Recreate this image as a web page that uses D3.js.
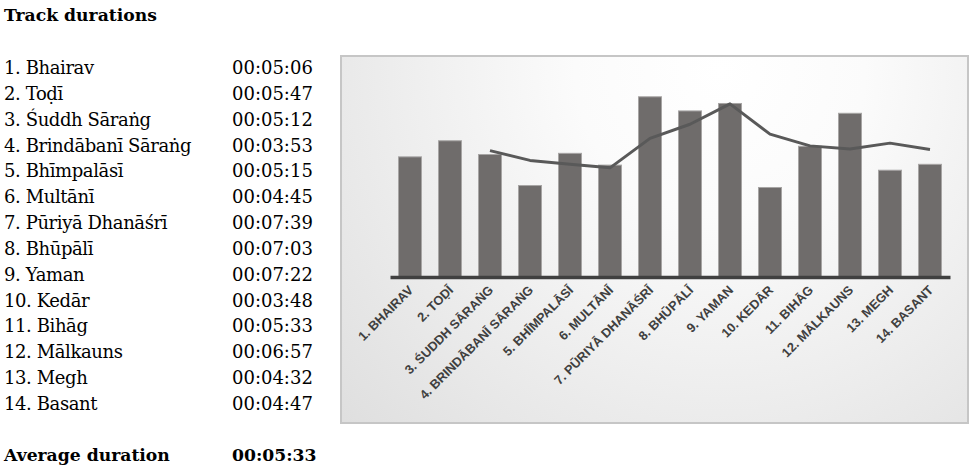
<!DOCTYPE html>
<html>
<head>
<meta charset="utf-8">
<script src="https://cdn.jsdelivr.net/npm/d3@7"></script>
<style>
  body { margin: 0; background: #fff; }
  .list text { font-family: "DejaVu Serif", serif; font-size: 18px; fill: #000; }
  .list .name { letter-spacing: -0.4px; }
  .list .bold { font-weight: bold; font-size: 17.2px; }
  .x-axis text { font-family: "Liberation Sans", Arial, sans-serif; font-weight: bold; font-size: 12.8px; fill: #404040; }
</style>
</head>
<body>
<svg id="chart" width="974" height="466"></svg>
<script>
// track names and durations (seconds) as listed on the left
var tracks = ['1. Bhairav', '2. Toḍī', '3. Śuddh Sāraṅg', '4. Brindābanī Sāraṅg', '5. Bhīmpalāsī',
    '6. Multānī', '7. Pūriyā Dhanāśrī', '8. Bhūpālī', '9. Yaman', '10. Kedār', '11. Bihāg',
    '12. Mālkauns', '13. Megh', '14. Basant'];
var durations = [306, 347, 312, 233, 315, 285, 459, 423, 442, 228, 333, 417, 272, 287];
var durationLabels = ['00:05:06', '00:05:47', '00:05:12', '00:03:53', '00:05:15', '00:04:45', '00:07:39',
    '00:07:03', '00:07:22', '00:03:48', '00:05:33', '00:06:57', '00:04:32', '00:04:47'];
// moving average line (3 periods), starts at track 3
var avgTracks = tracks.slice(2);
var avgValues = [322, 297, 287, 278, 353, 389, 441, 364, 334, 326, 341, 325];
var averageLabel = '00:05:33';

var svg = d3.select('#chart');

// left hand table
var list = svg.append('g').attr('class', 'list');
list.append('text').attr('class', 'bold').attr('x', 4).attr('y', 21).text('Track durations');

var rowY = d3.scalePoint().domain(tracks).range([74, 410]);
list.selectAll('.name').data(tracks).enter()
    .append('text').attr('class', 'name')
    .attr('x', 4).attr('y', d => rowY(d))
    .text(d => d);
list.selectAll('.dur').data(tracks).enter()
    .append('text').attr('class', 'dur')
    .attr('x', 232).attr('y', d => rowY(d))
    .text((d, i) => durationLabels[i]);
list.append('text').attr('class', 'bold').attr('x', 4).attr('y', 461).text('Average duration');
list.append('text').attr('class', 'bold').attr('x', 232).attr('y', 461).text(averageLabel);

// chart panel with soft gradient
var defs = svg.append('defs');
var grad = defs.append('radialGradient').attr('id', 'bg')
    .attr('gradientUnits', 'userSpaceOnUse')
    .attr('cx', 720).attr('cy', 70).attr('r', 580);
grad.append('stop').attr('offset', '0%').attr('stop-color', '#ffffff');
grad.append('stop').attr('offset', '25%').attr('stop-color', '#fbfbfb');
grad.append('stop').attr('offset', '100%').attr('stop-color', '#dadada');

svg.append('rect')
    .attr('x', 341).attr('y', 56).attr('width', 627).attr('height', 367)
    .attr('fill', 'url(#bg)')
    .attr('stroke', '#c6c6c6').attr('stroke-width', 2);

var x = d3.scaleBand().domain(tracks).range([390, 950]).paddingInner(0.425).paddingOuter(0.2125);
var y = d3.scaleLinear().domain([0, 540]).range([277, 65]);

svg.append('g').selectAll('.bar').data(tracks).enter()
    .append('rect').attr('class', 'bar')
    .attr('x', d => x(d))
    .attr('y', (d, i) => y(durations[i]))
    .attr('width', x.bandwidth())
    .attr('height', (d, i) => y(0) - y(durations[i]))
    .attr('fill', '#6f6c6b')
    .attr('stroke', '#a7a5a4').attr('stroke-width', 1);

var line = d3.line()
    .x(d => x(d) + x.bandwidth() / 2)
    .y((d, i) => y(avgValues[i]));
svg.append('path').datum(avgTracks)
    .attr('d', line)
    .attr('fill', 'none')
    .attr('stroke', '#595959')
    .attr('stroke-width', 3)
    .attr('stroke-linejoin', 'round');

var xAxis = svg.append('g').attr('class', 'x-axis')
    .attr('transform', 'translate(0,' + y(0) + ')')
    .call(d3.axisBottom(x).tickSize(0).tickSizeOuter(0).tickFormat(d => d.toUpperCase()));
xAxis.select('.domain').attr('stroke', '#404040').attr('stroke-width', 3.5);
xAxis.selectAll('text')
    .attr('dy', null).attr('y', 0)
    .style('text-anchor', 'end')
    .attr('transform', 'translate(4,14) rotate(-45)');
</script>
</body>
</html>
